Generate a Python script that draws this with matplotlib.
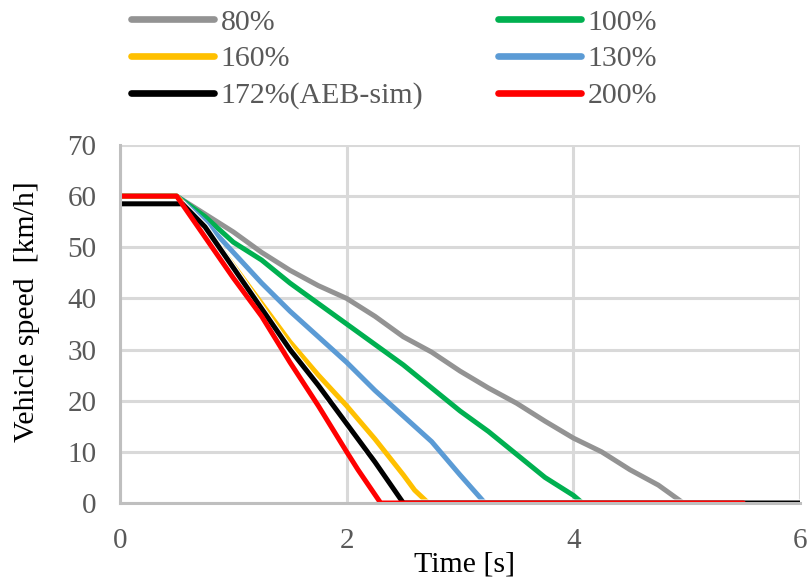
import matplotlib
matplotlib.use("Agg")
import matplotlib.pyplot as plt
import matplotlib.patheffects as pe

plt.rcParams['font.family'] = ['Liberation Serif', 'DejaVu Serif']

# Data (time [s], speed [km/h])
t80 = [0, 0.5, 0.75, 1.0, 1.25, 1.5, 1.75, 2.0, 2.25, 2.5, 2.75, 3.0, 3.25, 3.5, 3.75, 4.0, 4.25, 4.5, 4.75, 4.97, 5.5]
v80 = [60, 60, 56.5, 53, 49, 45.5, 42.5, 40, 36.5, 32.5, 29.5, 25.8, 22.5, 19.5, 16, 12.7, 10, 6.5, 3.5, 0, 0]

t100 = [0, 0.5, 0.75, 1.0, 1.25, 1.5, 1.75, 2.0, 2.25, 2.5, 2.75, 3.0, 3.25, 3.5, 3.75, 4.0, 4.08, 5.5]
v100 = [60, 60, 56, 51, 47.5, 43, 39, 35, 31, 27, 22.5, 18, 14, 9.5, 5, 1.5, 0, 0]

t130 = [0, 0.5, 0.75, 1.0, 1.25, 1.5, 1.75, 2.0, 2.25, 2.5, 2.75, 3.0, 3.1, 3.22, 5.5]
v130 = [60, 60, 55, 49, 43, 37.5, 32.5, 27.5, 22, 17, 12, 5.5, 3, 0, 0]

t160 = [0, 0.5, 0.75, 1.0, 1.25, 1.5, 1.75, 2.0, 2.25, 2.5, 2.6, 2.72, 5.5]
v160 = [60, 60, 54, 46.5, 39, 31.5, 25, 19, 12.5, 5.5, 2.5, 0, 0]

t172 = [0, 0.55, 0.75, 1.0, 1.25, 1.5, 1.75, 2.0, 2.25, 2.5, 6.0]
v172 = [58.5, 58.5, 54, 46, 38, 30, 23, 15.5, 8, 0, 0]

t200 = [0, 0.5, 0.75, 1.0, 1.25, 1.5, 1.75, 2.0, 2.1, 2.3, 5.5]
v200 = [60, 60, 52, 44, 36.5, 27.5, 19, 10, 6.5, 0, 0]

x_ticks = [0, 2, 4, 6]
y_ticks = [0, 10, 20, 30, 40, 50, 60, 70]

fig = plt.figure(figsize=(8.1, 5.8), dpi=100)
ax = fig.add_axes([120 / 810, 77 / 580, 680 / 810, 358 / 580])

lw = 3.6
l80, = ax.plot(t80, v80, color='#939393', lw=lw, solid_capstyle='round', label='80%')
l100, = ax.plot(t100, v100, color='#00B050', lw=lw, solid_capstyle='round', label='100%')
l130, = ax.plot(t130, v130, color='#5B9BD5', lw=lw, solid_capstyle='round', label='130%')
l160, = ax.plot(t160, v160, color='#FFC000', lw=lw, solid_capstyle='round', label='160%')
l172, = ax.plot(t172, v172, color='black', lw=lw, solid_capstyle='butt', label='172%(AEB-sim)',
                path_effects=[pe.Stroke(linewidth=lw + 1.5, foreground='white'), pe.Normal()])
l200, = ax.plot(t200, v200, color='#FF0000', lw=lw, solid_capstyle='round', label='200%')

ax.set_xlim(0, 6)
ax.set_ylim(0, 70)
ax.set_xticks(x_ticks)
ax.set_yticks(y_ticks)
ax.grid(True, color='#D9D9D9', lw=2.2)
ax.set_axisbelow(True)
for s in ['top', 'right']:
    ax.spines[s].set_visible(False)
ax.spines['left'].set_color('#BFBFBF')
ax.spines['left'].set_linewidth(2.2)
ax.spines['bottom'].set_color('#BFBFBF')
ax.spines['bottom'].set_linewidth(2.2)
ax.tick_params(length=0, labelsize=21, labelcolor='#595959')
ax.tick_params(axis='x', pad=18)
ax.tick_params(axis='y', pad=17)
ax.set_xlabel('Time [s]', fontsize=21.5, labelpad=-2)
ax.xaxis.label.set_x(0.507)
ax.set_ylabel('Vehicle speed  [km/h]', fontsize=21.5)
ax.yaxis.set_label_coords(-0.118, 0.534)

handles = [l80, l160, l172, l100, l130, l200]
leg = fig.legend(handles=handles, labels=[h.get_label() for h in handles], ncol=2,
                 loc='upper left', bbox_to_anchor=(131 / 810, 0.985), frameon=False,
                 borderpad=0, borderaxespad=0,
                 fontsize=21.5, handlelength=2.78, handletextpad=0.22, columnspacing=2.5,
                 labelspacing=0.33, labelcolor='#595959')
for h in leg.legend_handles:
    h.set_linewidth(4.8)
    h.set_solid_capstyle('round')

fig.savefig('out.png', dpi=100)
